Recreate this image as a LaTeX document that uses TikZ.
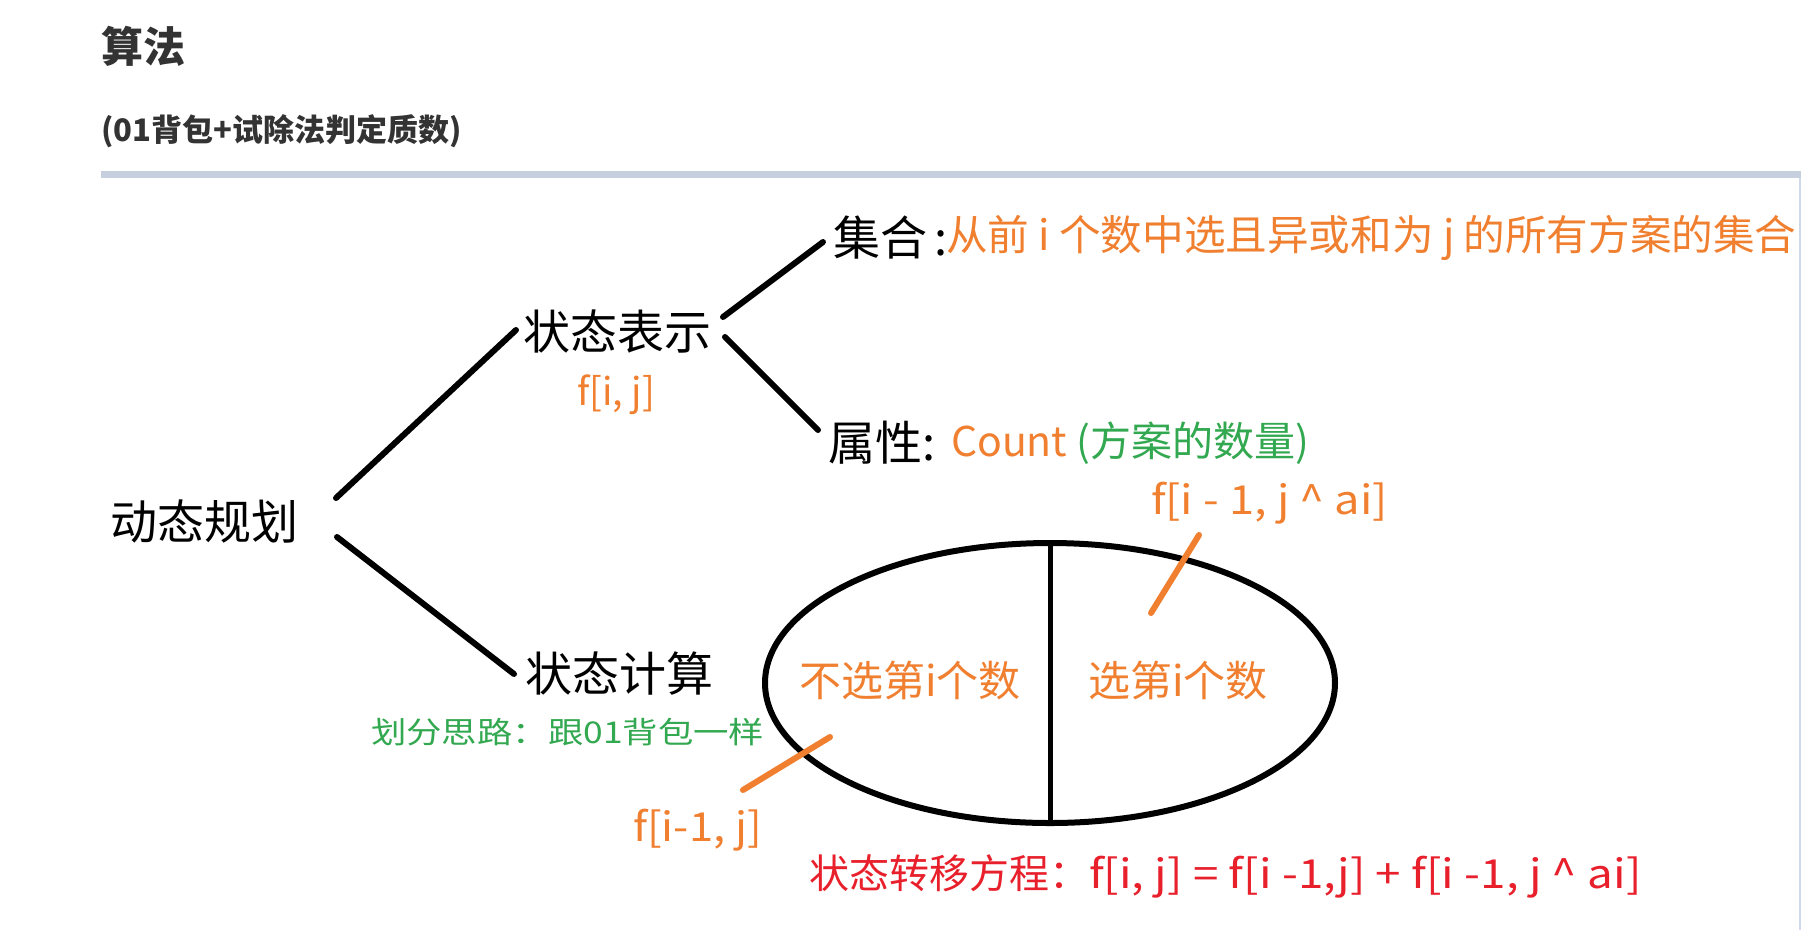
\documentclass[tikz,border=0pt]{standalone}
\usepackage{fontspec}
\usepackage{graphicx}
\setmainfont{Noto Sans CJK SC}
\usetikzlibrary{shapes.geometric}
\definecolor{orangeT}{RGB}{240,127,48}
\definecolor{greenT}{RGB}{50,168,80}
\definecolor{redT}{RGB}{232,32,44}
\definecolor{titleT}{RGB}{51,51,51}
\definecolor{barC}{RGB}{197,207,222}
\definecolor{edgeC}{RGB}{205,216,234}
\newcommand{\fs}[1]{\fontsize{#1}{#1}\selectfont}
\newcommand{\wide}[2]{\scalebox{#1}[1]{#2}}
\tikzset{
  lbl/.style={inner sep=0pt, outer sep=0pt, anchor=west},
  big/.style={lbl, font=\fs{47}},
  conn/.style={line width=6pt, line cap=round, black},
  otick/.style={line width=6pt, line cap=round, orangeT},
}
\begin{document}
\begin{tikzpicture}[x=1pt,y=-1pt]
\useasboundingbox (0,0) rectangle (1820,930);
\fill[white] (0,0) rectangle (1820,930);
% header
\node[lbl, font=\bfseries\fs{42}, text=titleT] (title) at (101,46) {算法};
\node[lbl, font=\bfseries\fs{31}, text=titleT] (sub) at (101,131) {(01背包+试除法判定质数)};
\fill[barC] (101,171) rectangle (1801,178);
\draw[edgeC, line width=2pt] (1800,178) -- (1800,930);
% tree nodes
\node[big] (dp) at (110,522) {动态规划};
\node[big] (rep) at (523,332) {状态表示};
\node[big] (calc) at (525,674) {状态计算};
\node[big] (setk) at (833,238) {集合\,:};
\node[lbl, font=\fs{41.6}, text=orangeT] (setv) at (946,238) {从前 i 个数中选且异或和为 j 的所有方案的集合};
\node[big] (attrk) at (828,443) {属性:};
\node[lbl, font=\fs{41}] (attrv) at (951,443) {\textcolor{orangeT}{Count} \textcolor{greenT}{(方案的数量)}};
\node[inner sep=0pt, font=\fs{38}, text=orangeT] (fij) at (616,395) {f[i, j]};
\node[lbl, font=\fs{30}, text=greenT] (idea) at (371,732) {\wide{1.18}{划分思路：跟01背包一样}};
% ellipse
\node[ellipse, draw, line width=6pt, minimum width=570pt, minimum height=280pt, inner sep=0pt] (ell) at (1050,683) {};
\draw[line width=5pt] (ell.north) -- ([yshift=4pt]ell.south);
\node[lbl, font=\fs{42}, text=orangeT] (nsel) at (799,680) {不选第i个数};
\node[lbl, font=\fs{42}, text=orangeT] (sel) at (1088,680) {选第i个数};
\node[lbl, font=\fs{40}, text=orangeT] (fsel) at (1151,503) {\wide{1.13}{f[i - 1, j \^{} ai]}};
\node[lbl, font=\fs{40}, text=orangeT] (fnot) at (633,830) {\wide{1.09}{f[i-1, j]}};
\node[lbl, font=\fs{40}, text=redT] (eq) at (809,876) {状态转移方程：\wide{1.145}{f[i, j] = f[i -1,j] + f[i -1, j \^{} ai]}};
% connectors
\draw[conn] ([shift={(38,-24)}]dp.east) -- ([shift={(-7,-2)}]rep.west);
\draw[conn] ([shift={(39,15)}]dp.east) -- ([shift={(-11,0)}]calc.west);
\draw[conn] ([shift={(12,-15)}]rep.east) -- ([shift={(-10,4)}]setk.west);
\draw[conn] ([shift={(14,5)}]rep.east) -- ([shift={(-10,-13)}]attrk.west);
\draw[otick] ([shift={(48,32)}]fsel.west) -- ([shift={(63,-67)}]sel.west);
\draw[otick] ([shift={(110,-40)}]fnot.west) -- ([shift={(31,57)}]nsel.west);
\end{tikzpicture}
\end{document}
